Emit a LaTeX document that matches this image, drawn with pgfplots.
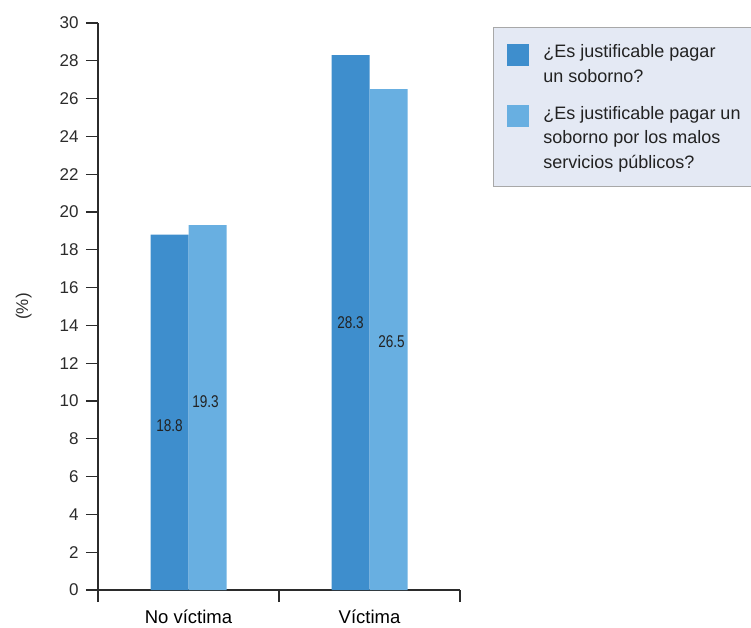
\documentclass[border=0pt]{standalone}
\usepackage{pgfplots}
\pgfplotsset{compat=1.18}
\usepackage{fontspec}
\setmainfont{Liberation Sans}
\definecolor{darkbar}{HTML}{3E8ECD}
\definecolor{lightbar}{HTML}{68AFE1}
\definecolor{legfill}{HTML}{E4E9F4}
\definecolor{legdraw}{HTML}{A8A8A8}
\definecolor{axcol}{HTML}{2B2B2B}
\definecolor{labcol}{HTML}{222222}
\pgfplotsset{
  legA/.style={legend image code/.code={\fill[darkbar] (0pt,-2pt) rectangle (22pt,20pt);}},
  legB/.style={legend image code/.code={\fill[lightbar] (0pt,11pt) rectangle (22pt,33pt);}},
}
\begin{document}
\begin{tikzpicture}
\useasboundingbox (0,0) rectangle (751pt,627pt);
\begin{axis}[
  at={(98pt,37pt)}, anchor=south west,
  scale only axis, width=362pt, height=567pt,
  xmin=0, xmax=2, ymin=0, ymax=30,
  axis lines=left,
  axis line style={-, axcol, line width=1.8pt},
  tick align=outside,
  major tick length=12pt,
  tick style={axcol, line width=1.3pt},
  ytick={0,2,...,30},
  xtick={0,1,2}, xticklabels={},
  extra x ticks={0.5,1.5},
  extra x tick labels={No víctima, Víctima},
  extra x tick style={major tick length=0pt, tick label style={font=\fontsize{18.5}{22}\selectfont, yshift=-16pt}},
  y tick label style={font=\fontsize{17}{20}\selectfont, text=axcol, xshift=-4pt},
  /pgf/number format/assume math mode=true,
  ylabel={(\%)},
  ylabel style={font=\fontsize{17}{20}\selectfont, text=axcol},
  ylabel shift=21pt,
  ybar=0pt, bar width=38pt,
  legend cell align=left,
  legend style={at={(rel axis cs:1.091,0.993)}, anchor=north west,
    fill=legfill, draw=legdraw, line width=1pt,
    inner xsep=14pt, inner ysep=17pt,
    column sep=14pt, row sep=21pt,
    nodes={inner sep=0pt, text=labcol},
    cells={align=left},
    font=\fontsize{18}{24.5}\selectfont},
  clip=false,
]
\addplot[fill=darkbar, draw=none, legA]
  coordinates {(0.5,18.8) (1.5,28.3)};
\addlegendentry{¿Es justificable pagar\\un soborno?}
\addplot[fill=lightbar, draw=none, legB]
  coordinates {(0.5,19.3) (1.5,26.5)};
\addlegendentry{¿Es justificable pagar un\\soborno por los malos\\servicios públicos?}
\begin{scope}[every node/.style={font=\fontsize{17}{20}\selectfont, text=labcol, inner sep=0pt}]
\node at (axis cs:0.5,8.7) [xshift=-19pt] {\scalebox{0.8}[1]{18.8}};
\node at (axis cs:0.5,9.96) [xshift=17pt] {\scalebox{0.8}[1]{19.3}};
\node at (axis cs:1.5,14.13) [xshift=-19pt] {\scalebox{0.8}[1]{28.3}};
\node at (axis cs:1.5,13.16) [xshift=22pt] {\scalebox{0.8}[1]{26.5}};
\end{scope}
\end{axis}
\end{tikzpicture}
\end{document}
